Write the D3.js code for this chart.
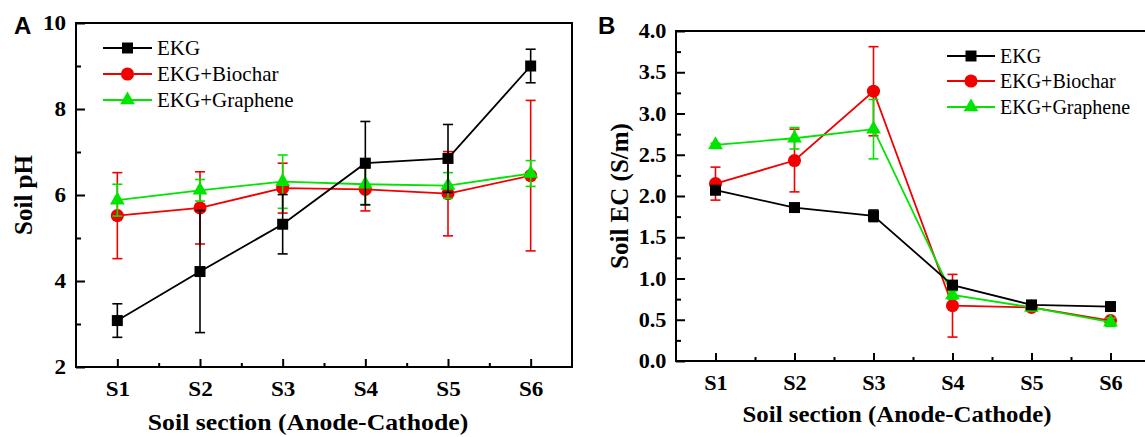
<!DOCTYPE html>
<html>
<head>
<meta charset="utf-8">
<script src="https://cdn.jsdelivr.net/npm/d3@7"></script>
<style>
  body { margin: 0; background: #fff; }
  svg { display: block; }
  .tick text { font-family: "Liberation Serif", "Times New Roman", serif; font-weight: bold; }
</style>
</head>
<body>
<svg id="chart" width="1145" height="437"></svg>
<script>
// 資料
const sections = ['S1', 'S2', 'S3', 'S4', 'S5', 'S6']
const seriesNames = ['EKG', 'EKG+Biochar', 'EKG+Graphene']

// A: soil pH
const phEKG = [3.08, 4.22, 5.32, 6.74, 6.85, 9.00]
const phEKGErr = [0.39, 1.42, 0.69, 0.97, 0.79, 0.39]
const phBiochar = [5.52, 5.70, 6.16, 6.13, 6.03, 6.45]
const phBiocharErr = [1.00, 0.84, 0.58, 0.50, 0.98, 1.75]
const phGraphene = [5.88, 6.11, 6.31, 6.25, 6.22, 6.50]
const phGrapheneErr = [0.37, 0.25, 0.62, 0.47, 0.30, 0.30]
const phTicks = [2, 4, 6, 8, 10]

// B: soil EC
const ecEKG = [2.07, 1.86, 1.76, 0.92, 0.68, 0.66]
const ecEKGErr = [0.05, 0.03, 0.07, 0.04, 0.03, 0.02]
const ecBiochar = [2.15, 2.43, 3.27, 0.67, 0.65, 0.49]
const ecBiocharErr = [0.20, 0.38, 0.54, 0.38, 0.04, 0.03]
const ecGraphene = [2.62, 2.70, 2.81, 0.80, 0.65, 0.47]
const ecGrapheneErr = [0.02, 0.13, 0.36, 0.05, 0.03, 0.05]
const ecTicks = [0, 0.5, 1, 1.5, 2, 2.5, 3, 3.5, 4]

const colors = { 'EKG': '#000000', 'EKG+Biochar': '#f20000', 'EKG+Graphene': '#00e400' }
const shapes = { 'EKG': d3.symbolSquare, 'EKG+Biochar': d3.symbolCircle, 'EKG+Graphene': d3.symbolTriangle }
const sizes = { 'EKG': 121, 'EKG+Biochar': 135, 'EKG+Graphene': 95 }

const serif = '"Liberation Serif", "Times New Roman", serif'
const svg = d3.select('#chart')

const panels = [
    {
        letter: 'A', letterX: 14, letterY: 34,
        left: 76, right: 572, top: 23, bottom: 367,
        yDomain: [2, 10], yTicks: phTicks, yFmt: d3.format('d'),
        yTitle: 'Soil pH', yTitleX: 23, xTitleX: 308, xTitleY: 430, sx: 1.1,
        series: [
            { name: 'EKG+Biochar', values: phBiochar, err: phBiocharErr },
            { name: 'EKG+Graphene', values: phGraphene, err: phGrapheneErr },
            { name: 'EKG', values: phEKG, err: phEKGErr }
        ],
        legend: { x0: 103, x1: 152, tx: 157, rows: [48, 74, 100], size: 21 }
    },
    {
        letter: 'B', letterX: 598, letterY: 34,
        left: 676, right: 1150, top: 31, bottom: 361,
        yDomain: [0, 4], yTicks: ecTicks, yFmt: d3.format('.1f'),
        yTitle: 'Soil EC (S/m)', yTitleX: 619, xTitleX: 897, xTitleY: 422, sx: 1.06,
        series: [
            { name: 'EKG+Biochar', values: ecBiochar, err: ecBiocharErr },
            { name: 'EKG+Graphene', values: ecGraphene, err: ecGrapheneErr },
            { name: 'EKG', values: ecEKG, err: ecEKGErr }
        ],
        legend: { x0: 947, x1: 995, tx: 1000, rows: [56, 81, 107], size: 20 }
    }
]

panels.forEach(drawPanel)

function drawPanel(p) {
    const xScale = d3.scaleLinear([0.5, 6.5], [p.left, p.right])
    const yScale = d3.scaleLinear(p.yDomain, [p.bottom, p.top])
    const step = p.yTicks[1] - p.yTicks[0]
    const yMinor = p.yTicks.slice(0, -1).map(d => d + step / 2)
    const xMinor = d3.range(1, 6).map(d => d + 0.5)

    // x軸
    const xAxis = d3.axisBottom(xScale).tickValues([1, 2, 3, 4, 5, 6])
        .tickFormat(d => sections[d - 1])
        .tickSizeInner(-8).tickSizeOuter(0).tickPadding(14)
    const xg = svg.append('g').attr('transform', `translate(0,${p.bottom})`).call(xAxis)
    xg.select('.domain').remove()
    xg.selectAll('.tick line').attr('stroke', '#000').attr('stroke-width', 2)
    xg.selectAll('.tick text').attr('font-size', 21).attr('fill', '#000')
        .attr('transform', `scale(${p.sx},1)`)

    const xMinorAxis = d3.axisBottom(xScale).tickValues(xMinor).tickFormat('')
        .tickSizeInner(-4).tickSizeOuter(0)
    const xm = svg.append('g').attr('transform', `translate(0,${p.bottom})`).call(xMinorAxis)
    xm.select('.domain').remove()
    xm.selectAll('.tick line').attr('stroke', '#000').attr('stroke-width', 2)

    // y軸
    const yAxis = d3.axisLeft(yScale).tickValues(p.yTicks).tickFormat(p.yFmt)
        .tickSizeInner(-9).tickSizeOuter(0).tickPadding(9)
    const yg = svg.append('g').attr('transform', `translate(${p.left},0)`).call(yAxis)
    yg.select('.domain').remove()
    yg.selectAll('.tick line').attr('stroke', '#000').attr('stroke-width', 2)
    yg.selectAll('.tick text').attr('font-size', 21).attr('fill', '#000')
        .attr('transform', `scale(${p.sx},1)`)

    const yMinorAxis = d3.axisLeft(yScale).tickValues(yMinor).tickFormat('')
        .tickSizeInner(-5).tickSizeOuter(0)
    const ym = svg.append('g').attr('transform', `translate(${p.left},0)`).call(yMinorAxis)
    ym.select('.domain').remove()
    ym.selectAll('.tick line').attr('stroke', '#000').attr('stroke-width', 2)

    // 外框
    svg.append('rect')
        .attr('x', p.left).attr('y', p.top)
        .attr('width', p.right - p.left).attr('height', p.bottom - p.top)
        .attr('fill', 'none').attr('stroke', '#000').attr('stroke-width', 2)

    // 資料線與誤差
    const line = d3.line().x((d, i) => xScale(i + 1)).y(d => yScale(d))
    p.series.forEach(s => {
        const c = colors[s.name]
        const g = svg.append('g')
        g.append('path').datum(s.values).attr('d', line)
            .attr('fill', 'none').attr('stroke', c).attr('stroke-width', 1.8)

        const eb = g.selectAll('.err').data(s.values).join('g').attr('class', 'err')
            .attr('stroke', c).attr('stroke-width', 1.6)
        eb.append('line')
            .attr('x1', (d, i) => xScale(i + 1)).attr('x2', (d, i) => xScale(i + 1))
            .attr('y1', (d, i) => yScale(d + s.err[i])).attr('y2', (d, i) => yScale(d - s.err[i]))
        eb.append('line')
            .attr('x1', (d, i) => xScale(i + 1) - 5).attr('x2', (d, i) => xScale(i + 1) + 5)
            .attr('y1', (d, i) => yScale(d + s.err[i])).attr('y2', (d, i) => yScale(d + s.err[i]))
        eb.append('line')
            .attr('x1', (d, i) => xScale(i + 1) - 5).attr('x2', (d, i) => xScale(i + 1) + 5)
            .attr('y1', (d, i) => yScale(d - s.err[i])).attr('y2', (d, i) => yScale(d - s.err[i]))

        g.selectAll('.mark').data(s.values).join('path').attr('class', 'mark')
            .attr('d', d3.symbol().type(shapes[s.name]).size(sizes[s.name]))
            .attr('transform', (d, i) => `translate(${xScale(i + 1)},${yScale(d)})`)
            .attr('fill', c)
    })

    // 圖例
    const lg = p.legend
    seriesNames.forEach((name, i) => {
        const y = lg.rows[i]
        const c = colors[name]
        svg.append('line').attr('x1', lg.x0).attr('x2', lg.x1).attr('y1', y).attr('y2', y)
            .attr('stroke', c).attr('stroke-width', 1.8)
        svg.append('path')
            .attr('d', d3.symbol().type(shapes[name]).size(sizes[name]))
            .attr('transform', `translate(${(lg.x0 + lg.x1) / 2},${y})`)
            .attr('fill', c)
        svg.append('text').attr('x', lg.tx).attr('y', y + 7)
            .attr('font-family', serif).attr('font-size', lg.size).attr('fill', '#000')
            .text(name)
    })

    // 軸標題
    svg.append('text')
        .attr('transform', `translate(${p.xTitleX},${p.xTitleY}) scale(${p.sx + 0.02},1)`)
        .attr('text-anchor', 'middle')
        .attr('font-family', serif).attr('font-weight', 'bold').attr('font-size', 23)
        .text('Soil section (Anode-Cathode)')

    svg.append('text')
        .attr('transform', `translate(${p.yTitleX},${(p.top + p.bottom) / 2}) rotate(-90)`)
        .attr('text-anchor', 'middle').attr('dy', '0.35em')
        .attr('font-family', serif).attr('font-weight', 'bold').attr('font-size', 25)
        .text(p.yTitle)

    // 子圖標號
    svg.append('text').attr('x', p.letterX).attr('y', p.letterY)
        .attr('font-family', '"Liberation Sans", Arial, sans-serif').attr('font-weight', 'bold')
        .attr('font-size', 24).text(p.letter)
}
</script>
</body>
</html>
